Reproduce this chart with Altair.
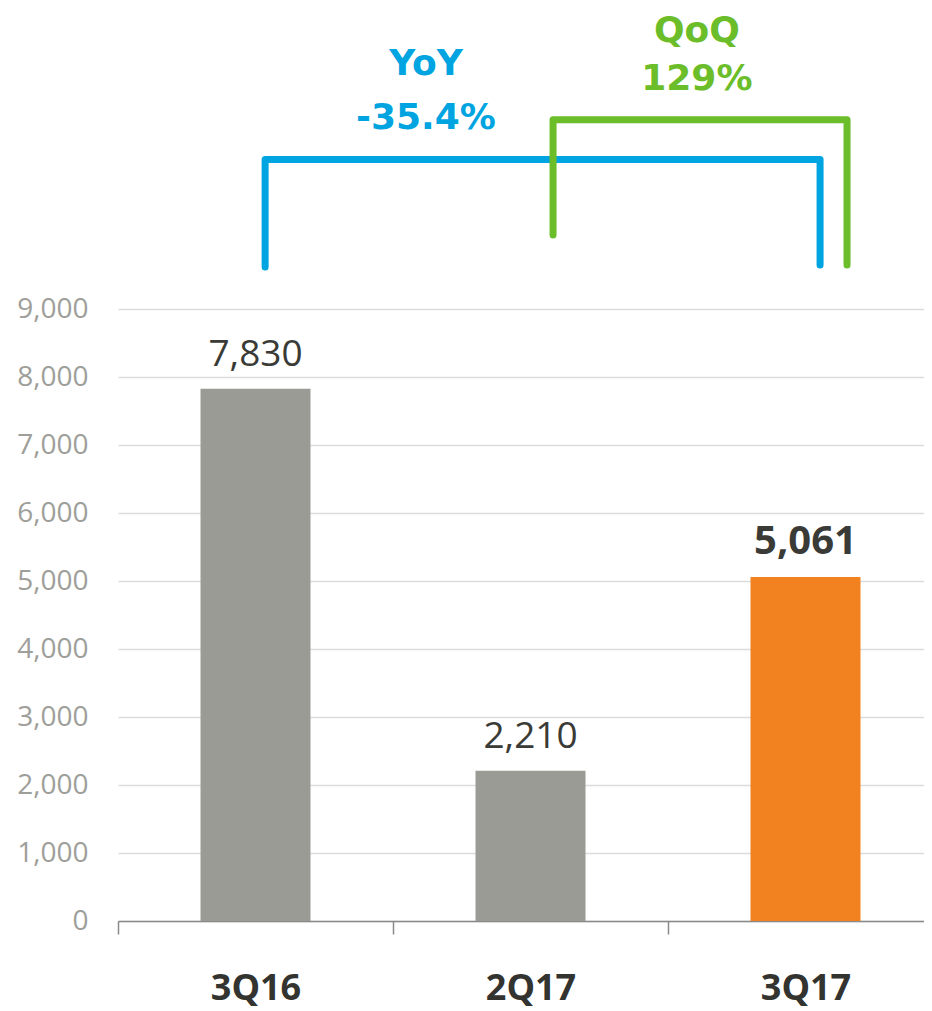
import altair as alt
import pandas as pd

# ---- data ----
quarters = ["3Q16", "2Q17", "3Q17"]
volumes = [7830, 2210, 5061]
bar_colors = ["#9b9b96", "#9b9b96", "#f28220"]
highlight = [False, False, True]
y_ticks = [0, 1000, 2000, 3000, 4000, 5000, 6000, 7000, 8000, 9000]

# bracket annotations: x in category-position units (0..3), y in value units
yoy_x = [0.535, 0.535, 2.553, 2.553]
yoy_y = [9620, 11200, 11200, 9650]
qoq_x = [1.582, 1.582, 2.651, 2.651]
qoq_y = [10090, 11785, 11785, 9650]
ann_labels = ["YoY", "-35.4%", "QoQ", "129%"]
ann_group = ["YoY", "YoY", "QoQ", "QoQ"]
ann_x = [1.12, 1.12, 2.105, 2.105]
ann_y = [12600, 11806, 13085, 12390]

Y_MAX = 13430
BAND_RANGE = 825
PLOT_W = 806
PLOT_H = 913

BLUE = "#00a4e0"
GREEN = "#6bbd2a"
DARK = "#3a3a36"

bars_df = pd.DataFrame({"q": quarters, "v": volumes, "color": bar_colors, "hl": highlight})

br_rows = []
for i, (x, y) in enumerate(zip(yoy_x, yoy_y)):
    br_rows.append({"g": "YoY", "i": i, "x": x, "v": y})
for i, (x, y) in enumerate(zip(qoq_x, qoq_y)):
    br_rows.append({"g": "QoQ", "i": i, "x": x, "v": y})
br_df = pd.DataFrame(br_rows)

ann_df = pd.DataFrame({"t": ann_labels, "g": ann_group, "x": ann_x, "v": ann_y})

y_scale = alt.Scale(domain=[0, Y_MAX], nice=False, zero=True)
y_axis = alt.Axis(
    title=None, values=y_ticks, format=",.0f", labelFont="Open Sans",
    labelFontSize=28, labelColor="#9e9e9a", labelPadding=30,
    ticks=False, domain=False, gridColor="#dcdcdc", gridWidth=1.5,
)
x_band = alt.X(
    "q:N",
    sort=quarters,
    scale=alt.Scale(range=[0, BAND_RANGE], paddingInner=0, paddingOuter=0),
    axis=alt.Axis(
        title=None, tickBand="extent", labelAngle=0,
        labelFont="Open Sans", labelFontSize=36, labelFontWeight="bold",
        labelColor="#333330", domainColor="#8a8a8a", domainWidth=1.5,
        tickColor="#8a8a8a", tickWidth=1.5, tickSize=13, labelPadding=37,
        grid=False,
    ),
)
y_enc = alt.Y("v:Q", scale=y_scale, axis=y_axis)

bars = alt.Chart(bars_df).mark_bar(size=110).encode(
    x=x_band, y=y_enc, color=alt.Color("color:N", scale=None)
)
labels_norm = alt.Chart(bars_df).transform_filter("!datum.hl").mark_text(
    baseline="alphabetic", dy=-23, font="Open Sans", fontSize=37, color=DARK
).encode(x=alt.X("q:N", sort=quarters), y=y_enc, text=alt.Text("v:Q", format=","))
labels_bold = alt.Chart(bars_df).transform_filter("datum.hl").mark_text(
    baseline="alphabetic", dy=-23, font="Open Sans", fontSize=40, fontWeight="bold", color=DARK
).encode(x=alt.X("q:N", sort=quarters), y=y_enc, text=alt.Text("v:Q", format=","))

x_lin = alt.X("x:Q", scale=alt.Scale(domain=[0, 3], range=[0, BAND_RANGE], nice=False, zero=False), axis=None)
grp_color = alt.Color("g:N", scale=alt.Scale(domain=["YoY", "QoQ"], range=[BLUE, GREEN]), legend=None)
brackets = alt.Chart(br_df).mark_line(strokeWidth=7, strokeCap="round", strokeJoin="round").encode(
    x=x_lin, y=y_enc, detail="g:N", order="i:Q", color=grp_color,
)
ann = alt.Chart(ann_df).mark_text(
    baseline="middle", align="center", font="DejaVu Sans", fontSize=36, fontWeight="bold"
).encode(x=x_lin, y=y_enc, text="t:N", color=grp_color)

base = alt.layer(bars, labels_norm, labels_bold)
over = alt.layer(brackets, ann)

chart = alt.layer(base, over).resolve_scale(x="independent").properties(
    width=PLOT_W, height=PLOT_H,
    autosize=alt.AutoSizeParams(type="none"),
    padding={"left": 110, "top": 0, "right": 0, "bottom": 92},
).configure_view(stroke=None)

chart.save("out.html", embed_options={"renderer": "svg", "actions": False})
